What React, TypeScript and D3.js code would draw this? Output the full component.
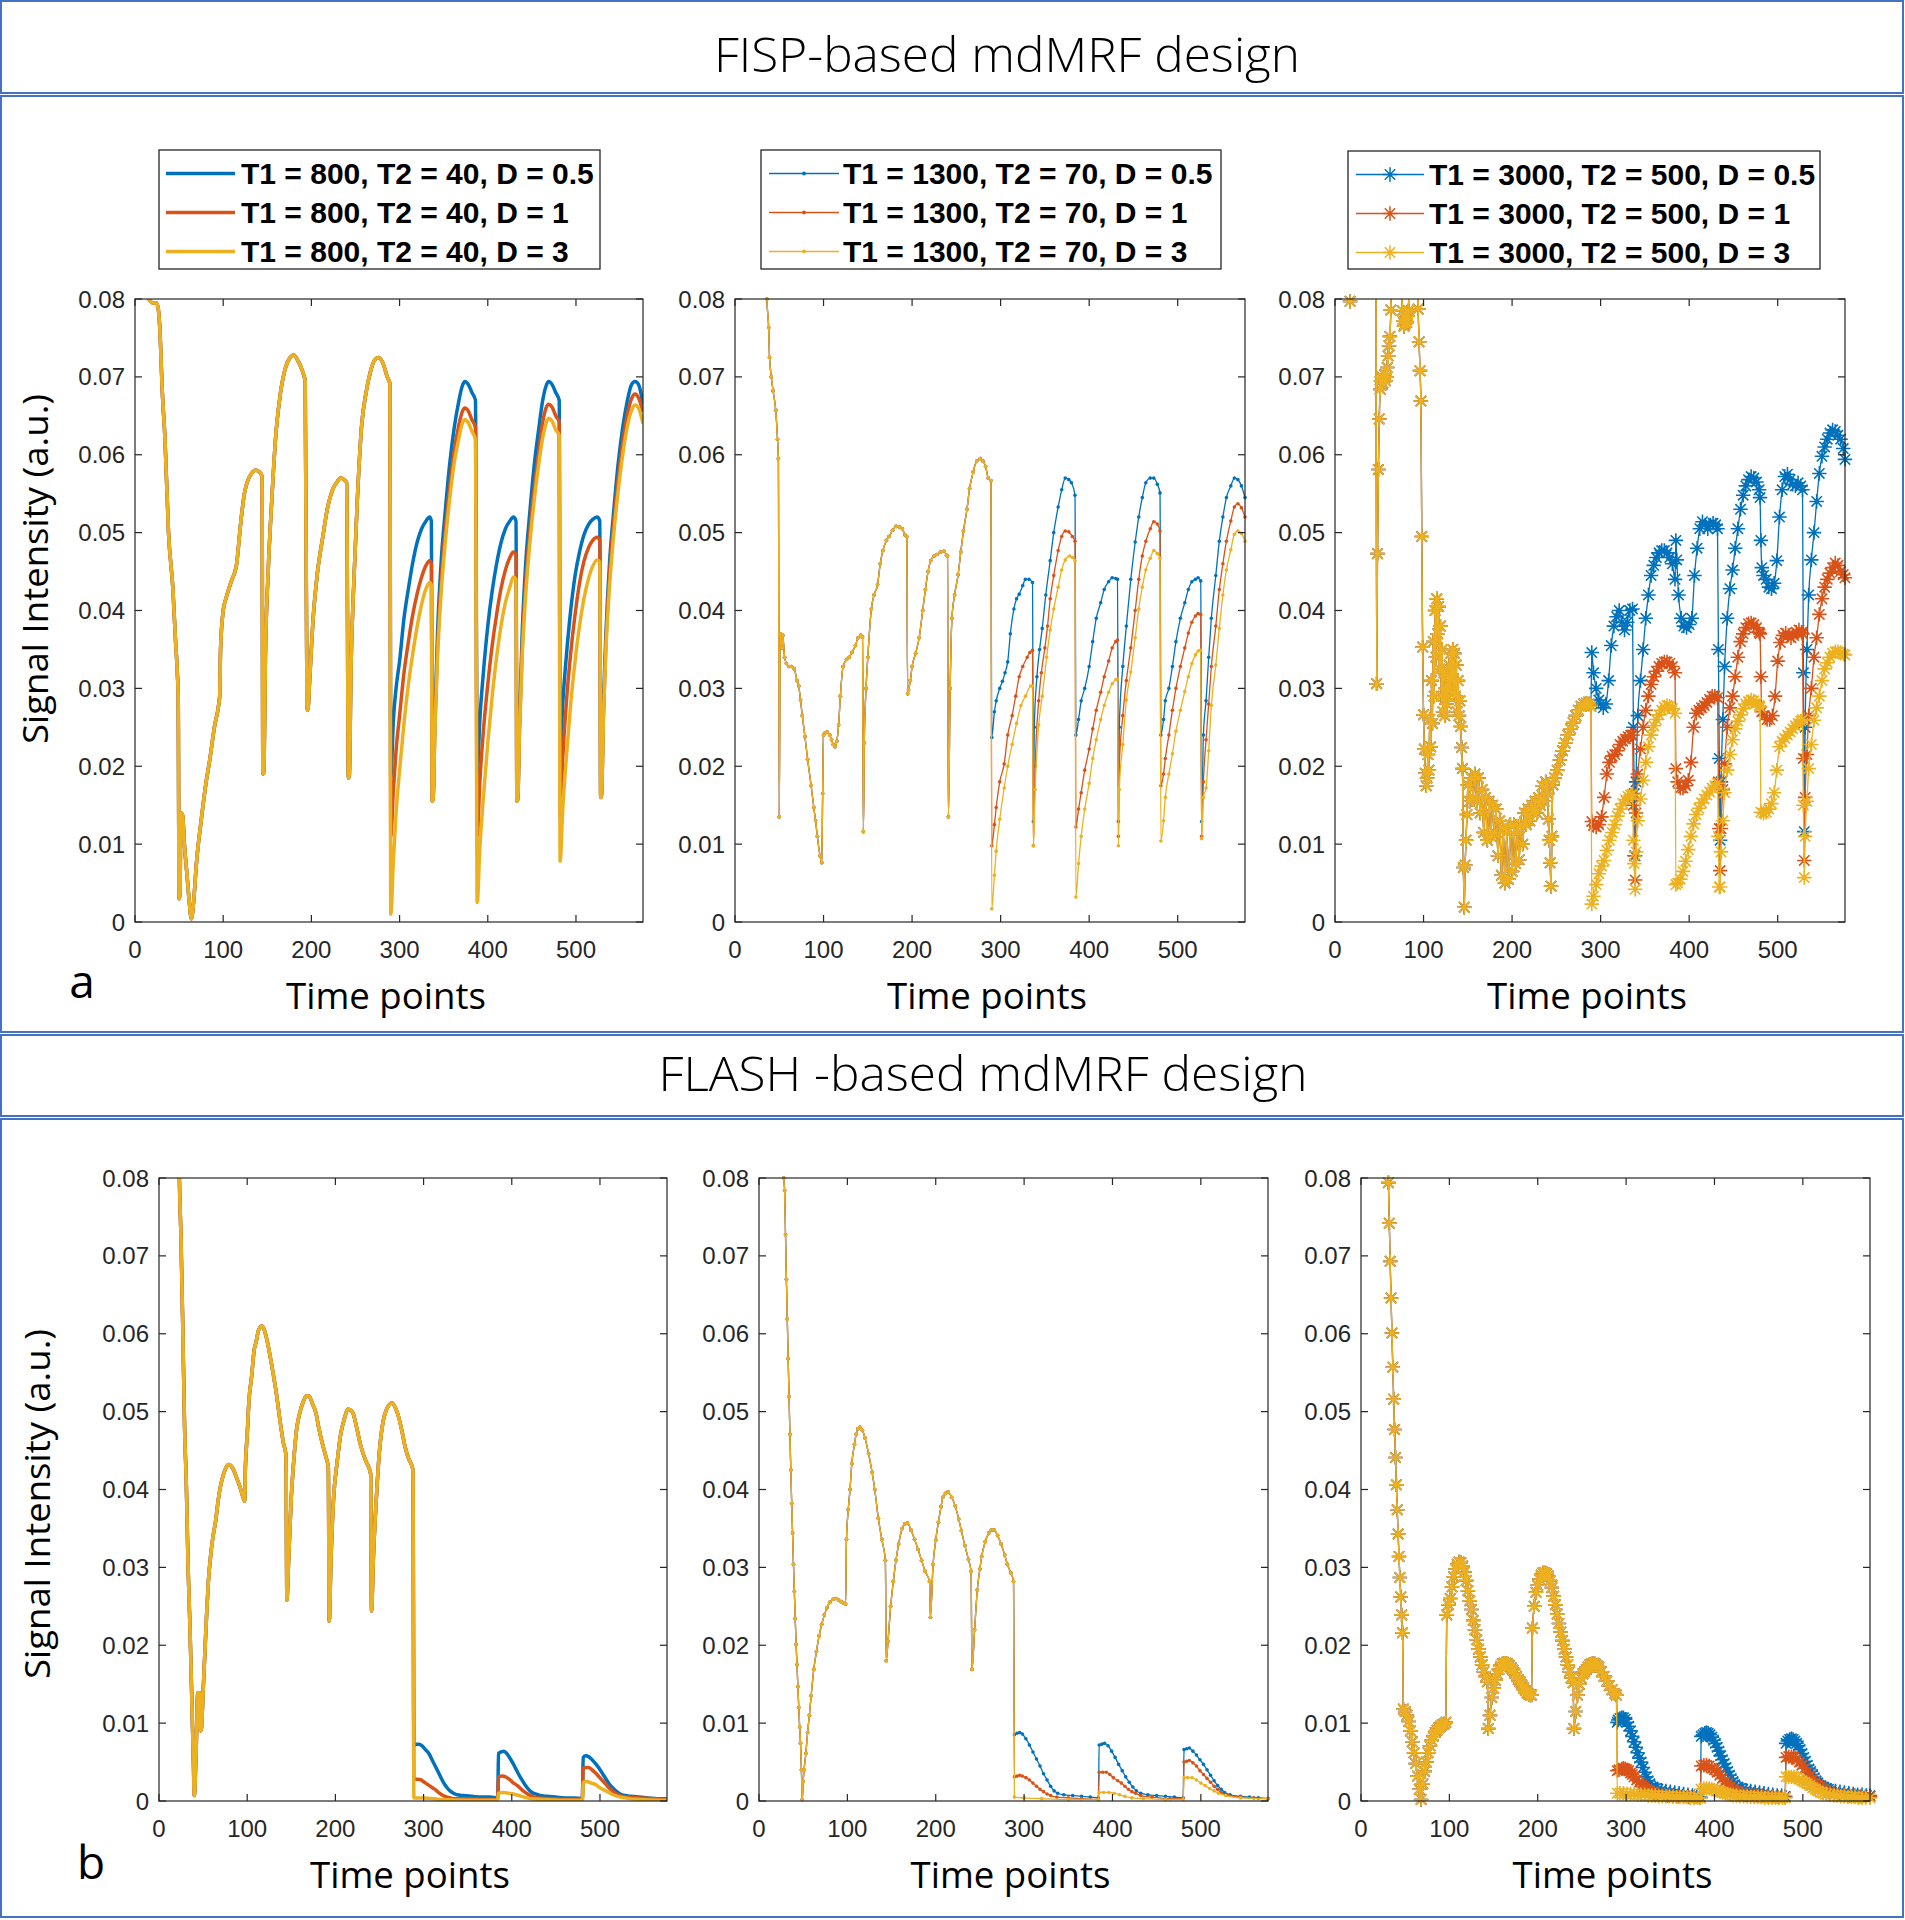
import React from 'react';
import * as d3 from 'd3';

type P = [number, number];

const X_MAX = 576;
const xTicks = [0, 100, 200, 300, 400, 500];
const yTicks = [0, 0.01, 0.02, 0.03, 0.04, 0.05, 0.06, 0.07, 0.08];
const yTickLabels = ['0', '0.01', '0.02', '0.03', '0.04', '0.05', '0.06', '0.07', '0.08'];
const seriesColors = ['#0072BD', '#D95319', '#EDB120'];

const titleTop = 'FISP-based mdMRF design';
const titleBottom = 'FLASH -based mdMRF design';
const yAxisLabel = 'Signal Intensity (a.u.)';
const xAxisLabel = 'Time points';

const legend800 = ['T1 = 800, T2 = 40, D = 0.5', 'T1 = 800, T2 = 40, D = 1', 'T1 = 800, T2 = 40, D = 3'];
const legend1300 = ['T1 = 1300, T2 = 70, D = 0.5', 'T1 = 1300, T2 = 70, D = 1', 'T1 = 1300, T2 = 70, D = 3'];
const legend3000 = ['T1 = 3000, T2 = 500, D = 0.5', 'T1 = 3000, T2 = 500, D = 1', 'T1 = 3000, T2 = 500, D = 3'];

// ---------------- FISP, T1=800 T2=40 ----------------
const fisp800Common: P[] = [[12,0.085],[14,0.0805],[17,0.0798],[20,0.0795],[24,0.0795],[26,0.079],[28,0.0765],[31,0.068],[34,0.062],[38,0.050],[43,0.0427],[46,0.036],[48,0.032],[49,0.0285],[50,0.003],[51,0.0035],[52,0.014],[54,0.0137],[56,0.010],[59,0.006],[62,0.002],[64,0.0004],[66,0.002],[70,0.008],[75,0.013],[80,0.0175],[85,0.021],[90,0.025],[95,0.028],[96,0.029],[97,0.035],[100,0.040],[103,0.0415],[107,0.043],[110,0.044],[115,0.0458],[120,0.0514],[124,0.055],[127,0.0564],[132,0.0576],[137,0.058],[141,0.0578],[144,0.0572],[145,0.019],[146,0.0192],[148,0.035],[151,0.045],[155,0.054],[160,0.063],[165,0.068],[171,0.0713],[176,0.0725],[180,0.0728],[185,0.072],[190,0.0707],[193,0.0694],[195,0.0275],[196,0.0272],[198,0.031],[202,0.039],[207,0.045],[213,0.0495],[218,0.053],[224,0.0555],[229,0.0565],[233,0.057],[237,0.0568],[240,0.0564],[242,0.0185],[243,0.0188],[245,0.033],[248,0.0433],[252,0.054],[257,0.0638],[262,0.068],[267,0.0707],[272,0.0722],[276,0.0725],[281,0.0718],[286,0.070],[289,0.0691]];
const fisp800Blue: P[] = [[290,0.0185],[293,0.026],[296,0.030],[300,0.0335],[305,0.039],[310,0.0428],[315,0.0462],[320,0.0488],[325,0.0505],[330,0.0515],[334,0.052],[336,0.0515],[337,0.0155],[338,0.0158],[340,0.026],[343,0.037],[347,0.046],[352,0.053],[357,0.059],[362,0.0635],[367,0.0668],[371,0.0688],[374,0.0694],[378,0.069],[382,0.068],[386,0.067],[388,0.019],[391,0.026],[395,0.032],[400,0.038],[405,0.0425],[410,0.046],[415,0.0487],[420,0.0505],[425,0.0515],[429,0.052],[432,0.0515],[433,0.0155],[434,0.0158],[436,0.026],[439,0.037],[443,0.046],[448,0.053],[453,0.059],[458,0.0635],[462,0.0668],[466,0.0688],[469,0.0694],[473,0.069],[477,0.068],[481,0.067],[482,0.021],[485,0.028],[489,0.034],[494,0.040],[499,0.0445],[504,0.0475],[509,0.0497],[514,0.051],[519,0.0517],[524,0.052],[527,0.0515],[528,0.016],[529,0.0163],[531,0.027],[534,0.037],[538,0.046],[543,0.053],[548,0.059],[553,0.0635],[558,0.0668],[563,0.069],[567,0.0694],[571,0.069],[576,0.0665]];
const fisp800Red: P[] = [[290,0.011],[293,0.017],[296,0.022],[300,0.0265],[305,0.032],[310,0.036],[315,0.0395],[320,0.0422],[325,0.0443],[330,0.0458],[334,0.0464],[336,0.046],[337,0.0155],[338,0.0158],[340,0.025],[343,0.035],[347,0.0435],[352,0.0505],[357,0.056],[362,0.0605],[367,0.0637],[371,0.0655],[374,0.066],[378,0.0656],[382,0.0645],[386,0.0635],[388,0.011],[391,0.018],[395,0.0245],[400,0.0305],[405,0.0355],[410,0.0395],[415,0.0428],[420,0.0452],[425,0.0468],[429,0.0475],[432,0.0472],[433,0.0155],[434,0.0158],[436,0.025],[439,0.035],[443,0.0435],[448,0.0505],[453,0.056],[458,0.0605],[462,0.064],[466,0.066],[469,0.0665],[473,0.0661],[477,0.065],[481,0.0642],[482,0.0135],[485,0.021],[489,0.028],[494,0.0345],[499,0.0395],[504,0.0435],[509,0.0463],[514,0.048],[519,0.049],[524,0.0494],[527,0.049],[528,0.016],[529,0.0163],[531,0.026],[534,0.036],[538,0.0445],[543,0.0515],[548,0.057],[553,0.0615],[558,0.065],[563,0.0672],[567,0.0678],[571,0.0673],[576,0.0655]];
const fisp800Yellow: P[] = [[290,0.001],[293,0.008],[296,0.014],[300,0.0195],[305,0.0255],[310,0.0305],[315,0.0345],[320,0.038],[325,0.0408],[330,0.0428],[334,0.0436],[336,0.0433],[337,0.0155],[338,0.0158],[340,0.0245],[343,0.034],[347,0.042],[352,0.049],[357,0.0545],[362,0.059],[367,0.062],[371,0.064],[374,0.0645],[378,0.0641],[382,0.063],[386,0.062],[388,0.0025],[391,0.0095],[395,0.016],[400,0.023],[405,0.029],[410,0.034],[415,0.038],[420,0.041],[425,0.043],[429,0.0443],[432,0.044],[433,0.0155],[434,0.0158],[436,0.0245],[439,0.034],[443,0.042],[448,0.049],[453,0.0545],[458,0.059],[462,0.062],[466,0.064],[469,0.0647],[473,0.0643],[477,0.0632],[481,0.0625],[482,0.0078],[485,0.0145],[489,0.021],[494,0.028],[499,0.0335],[504,0.038],[509,0.0415],[514,0.044],[519,0.0457],[524,0.0465],[527,0.0462],[528,0.016],[529,0.0163],[531,0.0255],[534,0.035],[538,0.043],[543,0.050],[548,0.0555],[553,0.060],[558,0.0635],[563,0.0657],[567,0.0664],[571,0.066],[576,0.064]];

// ---------------- FISP, T1=1300 T2=70 ----------------
const fisp1300Common: P[] = [[34,0.09],[36,0.0800],[38,0.0763],[39,0.0725],[41,0.070],[43,0.0682],[46,0.0657],[48,0.062],[49,0.0595],[50,0.0135],[51,0.037],[53,0.0352],[54,0.0368],[56,0.034],[58,0.0332],[61,0.0328],[64,0.0328],[67,0.0325],[70,0.031],[72,0.0303],[74,0.0285],[76,0.0265],[79,0.0238],[82,0.0209],[86,0.0175],[89,0.0147],[91,0.013],[93,0.011],[96,0.0085],[98,0.0076],[99,0.0165],[100,0.024],[102,0.0243],[104,0.0244],[107,0.024],[109,0.0234],[111,0.0228],[113,0.0225],[115,0.0232],[117,0.0253],[119,0.029],[122,0.0328],[126,0.0337],[129,0.034],[132,0.0346],[136,0.0355],[139,0.0365],[142,0.0368],[144,0.0366],[145,0.0116],[146,0.023],[148,0.030],[150,0.034],[154,0.0402],[157,0.042],[161,0.0433],[164,0.046],[167,0.0477],[171,0.049],[174,0.0495],[178,0.0503],[182,0.0508],[186,0.0507],[189,0.0505],[192,0.0497],[194,0.0495],[195,0.0293],[196,0.0298],[198,0.031],[200,0.0328],[204,0.0345],[208,0.0365],[212,0.040],[215,0.0427],[218,0.045],[221,0.0464],[225,0.047],[228,0.0472],[232,0.0475],[236,0.0476],[239,0.0471],[240,0.047],[241,0.0135],[243,0.030],[245,0.039],[248,0.042],[252,0.0446],[255,0.0475],[258,0.0502],[262,0.053],[265,0.0557],[269,0.0578],[273,0.0592],[277,0.0595],[280,0.0592],[283,0.0585],[286,0.057],[289,0.0567]];
const fisp1300Blue: P[] = [[290,0.0237],[293,0.027],[295,0.0284],[299,0.030],[302,0.0309],[305,0.032],[308,0.0334],[311,0.037],[315,0.0402],[318,0.0415],[321,0.0421],[325,0.0432],[328,0.044],[332,0.044],[336,0.0436],[337,0.0129],[338,0.025],[341,0.0315],[344,0.035],[347,0.0377],[351,0.042],[356,0.0464],[360,0.050],[365,0.0533],[369,0.0555],[373,0.057],[377,0.0568],[380,0.0564],[384,0.0548],[385,0.024],[388,0.026],[391,0.0284],[395,0.030],[400,0.0328],[404,0.036],[408,0.039],[413,0.041],[417,0.0427],[422,0.0437],[426,0.0442],[430,0.0441],[432,0.044],[433,0.0129],[434,0.025],[438,0.0328],[442,0.038],[447,0.044],[452,0.0488],[456,0.052],[460,0.0545],[464,0.0564],[469,0.057],[473,0.057],[477,0.0562],[480,0.0551],[481,0.024],[484,0.026],[486,0.0284],[490,0.030],[494,0.0328],[498,0.036],[503,0.039],[508,0.041],[512,0.0427],[516,0.0437],[520,0.044],[523,0.0442],[526,0.0438],[527,0.0129],[529,0.024],[532,0.0284],[535,0.034],[538,0.039],[543,0.0445],[547,0.0489],[551,0.052],[555,0.0545],[560,0.056],[564,0.057],[568,0.0568],[572,0.056],[576,0.0545]];
const fisp1300Red: P[] = [[290,0.0098],[293,0.0125],[295,0.0147],[299,0.018],[304,0.0203],[308,0.024],[313,0.0265],[317,0.029],[321,0.0315],[325,0.0328],[330,0.034],[333,0.0346],[336,0.0349],[337,0.0098],[339,0.020],[343,0.0284],[346,0.032],[350,0.0352],[353,0.038],[356,0.0415],[360,0.0445],[365,0.0477],[369,0.0495],[373,0.0502],[377,0.0501],[381,0.0495],[384,0.0489],[385,0.0122],[388,0.0145],[391,0.0166],[395,0.0195],[400,0.0222],[404,0.0248],[408,0.0272],[413,0.0295],[417,0.0315],[422,0.0335],[426,0.0352],[430,0.036],[432,0.0362],[433,0.011],[434,0.020],[438,0.0265],[442,0.031],[447,0.0352],[452,0.040],[456,0.044],[460,0.047],[464,0.0489],[469,0.0505],[473,0.0514],[477,0.0511],[480,0.0502],[481,0.0175],[484,0.019],[486,0.021],[490,0.024],[494,0.0272],[498,0.030],[503,0.0328],[508,0.0352],[512,0.0371],[516,0.0385],[520,0.0393],[523,0.0396],[526,0.0395],[527,0.011],[529,0.018],[532,0.0234],[535,0.028],[538,0.0328],[543,0.038],[547,0.0427],[551,0.046],[555,0.0489],[560,0.0515],[564,0.0533],[568,0.0537],[572,0.0532],[576,0.052]];
const fisp1300Yellow: P[] = [[290,0.0017],[293,0.006],[295,0.0091],[299,0.0132],[304,0.0172],[308,0.020],[313,0.0228],[318,0.0255],[323,0.0278],[328,0.029],[334,0.0303],[336,0.0303],[337,0.0098],[339,0.017],[343,0.0253],[347,0.029],[352,0.034],[356,0.0375],[360,0.0402],[365,0.043],[369,0.0452],[373,0.0465],[378,0.047],[381,0.0468],[384,0.0464],[385,0.0032],[388,0.0075],[391,0.011],[395,0.0145],[400,0.0178],[404,0.021],[408,0.0234],[413,0.026],[417,0.0278],[422,0.0295],[426,0.0306],[430,0.0311],[432,0.0312],[433,0.0098],[434,0.017],[438,0.0228],[442,0.0285],[447,0.0321],[452,0.0365],[456,0.0402],[460,0.043],[464,0.0452],[469,0.0467],[473,0.0477],[477,0.0473],[480,0.0467],[481,0.0104],[484,0.013],[486,0.016],[490,0.019],[494,0.0216],[498,0.0245],[503,0.0272],[508,0.0296],[512,0.0315],[516,0.0332],[520,0.0343],[523,0.0348],[526,0.0349],[527,0.0107],[529,0.016],[532,0.0172],[535,0.022],[538,0.0278],[543,0.033],[547,0.0377],[551,0.042],[555,0.0452],[560,0.0478],[564,0.0498],[568,0.0502],[572,0.0499],[576,0.0489]];

// ---------------- FISP, T1=3000 T2=500 ----------------
const fisp3000Common: P[] = [[16,0.085],[17,0.0797],[18,0.085],[46,0.11],[47,0.0306],[48,0.0473],[49,0.0581],[50,0.0646],[51,0.0684],[52,0.0695],[53,0.070],[54,0.0692],[55,0.0698],[56,0.0703],[57,0.0695],[58,0.070],[59,0.0712],[60,0.0727],[61,0.074],[62,0.0752],[63,0.0786],[64,0.09],[75,0.09],[76,0.0785],[77,0.0772],[78,0.0765],[79,0.0768],[80,0.0775],[81,0.077],[82,0.0778],[83,0.0785],[84,0.09],[93,0.09],[94,0.0787],[95,0.0745],[96,0.0708],[97,0.0669],[98,0.0495],[99,0.0353],[100,0.0266],[101,0.0222],[102,0.0191],[103,0.0175],[104,0.0185],[105,0.0215],[106,0.0195],[107,0.026],[108,0.0225],[109,0.031],[110,0.0255],[111,0.036],[112,0.029],[113,0.040],[114,0.034],[115,0.0415],[116,0.037],[117,0.0405],[118,0.0325],[119,0.038],[120,0.029],[121,0.035],[122,0.027],[123,0.032],[124,0.0265],[125,0.030],[126,0.028],[127,0.0315],[128,0.029],[129,0.033],[130,0.030],[131,0.0345],[132,0.031],[133,0.035],[134,0.0295],[135,0.0345],[136,0.029],[137,0.033],[138,0.027],[139,0.031],[140,0.0265],[141,0.0284],[142,0.0251],[143,0.0224],[144,0.0197],[145,0.007],[146,0.0019],[147,0.0073],[148,0.0105],[149,0.0138],[150,0.0176],[152,0.0155],[154,0.0185],[156,0.016],[158,0.019],[160,0.0155],[162,0.0185],[164,0.014],[166,0.017],[168,0.0115],[170,0.016],[172,0.0105],[174,0.0155],[176,0.011],[178,0.015],[180,0.0115],[182,0.0145],[184,0.0085],[186,0.013],[188,0.006],[190,0.012],[192,0.005],[194,0.0115],[196,0.0055],[198,0.0125],[200,0.0065],[202,0.0125],[204,0.0075],[206,0.0115],[208,0.008],[210,0.0125],[212,0.010],[214,0.014],[216,0.0125],[218,0.0145],[220,0.013],[222,0.015],[224,0.014],[226,0.0155],[228,0.014],[230,0.016],[232,0.015],[234,0.0175],[236,0.0155],[238,0.018],[240,0.0165],[241,0.0132],[242,0.0105],[243,0.0076],[244,0.0046],[245,0.011],[246,0.0176],[248,0.0185],[251,0.0195],[254,0.0208],[257,0.022],[260,0.023],[263,0.024],[266,0.0248],[269,0.0256],[272,0.0265],[275,0.0272],[278,0.0277],[281,0.028],[284,0.0281],[287,0.028],[289,0.0277]];
const fisp3000Blue: P[] = [[290,0.0346],[292,0.032],[295,0.030],[298,0.0285],[300,0.028],[303,0.0275],[306,0.028],[309,0.031],[312,0.0355],[315,0.038],[318,0.0392],[321,0.040],[324,0.0385],[327,0.0375],[330,0.0385],[333,0.040],[336,0.0402],[337,0.025],[338,0.0165],[339,0.0085],[340,0.018],[342,0.0265],[345,0.031],[348,0.035],[351,0.039],[354,0.042],[357,0.0445],[360,0.0458],[363,0.0468],[366,0.0474],[369,0.0477],[372,0.0477],[375,0.0474],[378,0.0468],[381,0.046],[384,0.044],[385,0.049],[386,0.0465],[388,0.042],[391,0.039],[394,0.038],[397,0.0378],[400,0.0382],[403,0.039],[406,0.0445],[409,0.048],[412,0.0505],[415,0.0514],[418,0.051],[421,0.0505],[424,0.051],[427,0.0512],[430,0.051],[432,0.0505],[433,0.035],[434,0.021],[435,0.0105],[436,0.018],[438,0.026],[440,0.0328],[443,0.039],[446,0.0428],[449,0.0452],[452,0.048],[455,0.0505],[458,0.053],[461,0.0548],[464,0.056],[467,0.0568],[470,0.0572],[473,0.057],[476,0.0565],[479,0.0555],[480,0.0545],[481,0.049],[482,0.0455],[484,0.0445],[487,0.044],[490,0.043],[493,0.0428],[496,0.0435],[499,0.0464],[502,0.052],[505,0.0555],[508,0.0572],[511,0.0575],[514,0.0568],[517,0.0562],[520,0.056],[523,0.0564],[526,0.056],[528,0.0555],[529,0.032],[530,0.0116],[531,0.025],[533,0.035],[535,0.042],[538,0.0465],[541,0.050],[544,0.054],[547,0.0576],[550,0.0598],[553,0.061],[556,0.062],[559,0.0628],[562,0.0632],[565,0.063],[568,0.0625],[571,0.062],[574,0.0608],[576,0.0594]];
const fisp3000Red: P[] = [[290,0.0129],[292,0.0124],[295,0.0122],[298,0.0125],[301,0.0135],[304,0.016],[307,0.019],[310,0.0205],[313,0.0213],[316,0.0215],[319,0.022],[322,0.0228],[325,0.0232],[328,0.0235],[331,0.0238],[334,0.024],[336,0.024],[337,0.015],[338,0.0085],[339,0.0054],[340,0.014],[342,0.019],[345,0.0222],[348,0.025],[351,0.0272],[354,0.029],[357,0.0305],[360,0.0315],[363,0.0322],[366,0.0328],[369,0.0332],[372,0.0334],[375,0.0334],[378,0.0332],[381,0.0328],[384,0.032],[385,0.0197],[387,0.018],[390,0.0172],[393,0.0172],[396,0.0175],[399,0.0182],[402,0.0205],[405,0.025],[408,0.0268],[411,0.0272],[414,0.0275],[417,0.0278],[420,0.0282],[423,0.0286],[426,0.029],[429,0.029],[432,0.0288],[433,0.018],[434,0.012],[435,0.0066],[436,0.012],[438,0.017],[440,0.0203],[443,0.025],[446,0.0275],[449,0.029],[452,0.0315],[455,0.034],[458,0.036],[461,0.037],[464,0.0378],[467,0.0383],[470,0.0384],[473,0.0382],[476,0.0378],[479,0.0372],[480,0.037],[481,0.0315],[482,0.027],[485,0.0265],[488,0.026],[491,0.026],[494,0.0265],[497,0.029],[500,0.0335],[503,0.0359],[506,0.0368],[509,0.0371],[512,0.0368],[515,0.0365],[518,0.0368],[521,0.0372],[524,0.0375],[527,0.0372],[528,0.037],[529,0.021],[530,0.0079],[531,0.016],[533,0.0215],[535,0.0265],[538,0.030],[541,0.034],[544,0.0365],[547,0.0395],[550,0.0415],[553,0.043],[556,0.044],[559,0.0448],[562,0.0455],[565,0.0461],[568,0.0458],[571,0.045],[574,0.0446],[576,0.0442]];
const fisp3000Yellow: P[] = [[290,0.0023],[292,0.0033],[295,0.0048],[298,0.0062],[301,0.0072],[304,0.0079],[307,0.0092],[310,0.0105],[313,0.0115],[316,0.0125],[319,0.0136],[322,0.0145],[325,0.0152],[328,0.0157],[331,0.0161],[334,0.0163],[336,0.0164],[337,0.0105],[338,0.0075],[339,0.0042],[340,0.009],[342,0.013],[345,0.0158],[348,0.0182],[351,0.0205],[354,0.0225],[357,0.024],[360,0.0252],[363,0.026],[366,0.0266],[369,0.0272],[372,0.0276],[375,0.0278],[378,0.0277],[381,0.0274],[384,0.0268],[385,0.0048],[387,0.005],[390,0.0055],[393,0.0065],[396,0.0078],[399,0.0093],[402,0.011],[405,0.0126],[408,0.0138],[411,0.0146],[414,0.0153],[417,0.0158],[420,0.0163],[423,0.0167],[426,0.0172],[429,0.0175],[432,0.0178],[433,0.011],[434,0.0045],[435,0.0045],[436,0.009],[438,0.013],[440,0.0166],[443,0.0195],[446,0.0215],[449,0.0234],[452,0.0248],[455,0.0258],[458,0.0266],[461,0.0274],[464,0.028],[467,0.0283],[470,0.0285],[473,0.0284],[476,0.0281],[479,0.0278],[480,0.0276],[481,0.0141],[484,0.014],[487,0.0141],[490,0.0145],[493,0.0152],[496,0.0166],[499,0.0195],[502,0.0225],[505,0.0232],[508,0.0236],[511,0.024],[514,0.0244],[517,0.0248],[520,0.0252],[523,0.0255],[526,0.0258],[528,0.026],[529,0.015],[530,0.0057],[531,0.011],[533,0.0155],[535,0.0197],[538,0.0228],[541,0.0259],[544,0.0275],[547,0.029],[550,0.031],[553,0.0325],[556,0.0333],[559,0.034],[562,0.0345],[565,0.0347],[568,0.0347],[571,0.0346],[574,0.0344],[576,0.0343]];

// ---------------- FLASH, T1=800 T2=40 ----------------
const flash800Common: P[] = [[20,0.11],[23,0.0805],[25,0.072],[27,0.0606],[29,0.048],[31,0.0406],[33,0.030],[35,0.0228],[37,0.014],[39,0.005],[40,0.0007],[42,0.006],[44,0.0139],[46,0.0139],[47,0.009],[48,0.0092],[50,0.014],[52,0.019],[54,0.024],[56,0.0282],[59,0.032],[62,0.0345],[64,0.0358],[67,0.0385],[69,0.040],[72,0.0415],[76,0.0428],[79,0.0432],[82,0.043],[85,0.0424],[88,0.0415],[91,0.0406],[94,0.0395],[97,0.0385],[98,0.043],[100,0.047],[102,0.0514],[105,0.0545],[108,0.058],[110,0.0589],[113,0.0605],[117,0.061],[120,0.0603],[123,0.0589],[127,0.0565],[130,0.0545],[133,0.0524],[137,0.049],[141,0.046],[144,0.0444],[145,0.0258],[147,0.031],[150,0.039],[153,0.044],[156,0.0477],[160,0.050],[164,0.0514],[167,0.052],[170,0.052],[174,0.051],[178,0.0498],[181,0.048],[185,0.046],[189,0.0443],[192,0.0428],[193,0.0231],[195,0.031],[198,0.039],[202,0.0435],[206,0.0471],[210,0.049],[214,0.0503],[217,0.0502],[220,0.0498],[224,0.048],[229,0.0455],[234,0.0438],[240,0.042],[241,0.0244],[243,0.031],[247,0.040],[250,0.045],[254,0.0487],[258,0.0503],[262,0.051],[264,0.0511],[268,0.0505],[272,0.0492],[276,0.0472],[279,0.0455],[283,0.044],[288,0.0425]];
const flash800Blue: P[] = [[289,0.0072],[292,0.0073],[295,0.0073],[298,0.0071],[302,0.0066],[306,0.0061],[310,0.0052],[314,0.0043],[318,0.0034],[322,0.0025],[326,0.0018],[330,0.0013],[334,0.001],[338,0.0008],[345,0.0007],[355,0.0006],[365,0.0005],[375,0.0005],[384,0.0004],[385,0.0061],[388,0.0063],[391,0.0064],[395,0.006],[399,0.0053],[403,0.0045],[407,0.0036],[411,0.0028],[415,0.0021],[419,0.0015],[423,0.0011],[427,0.0009],[432,0.0007],[440,0.0006],[450,0.0005],[460,0.0004],[470,0.0004],[480,0.0003],[481,0.0056],[484,0.0058],[487,0.0057],[491,0.0053],[495,0.0048],[499,0.0042],[503,0.0035],[507,0.0028],[511,0.0021],[515,0.0016],[519,0.0012],[523,0.0009],[528,0.0007],[535,0.0006],[545,0.0005],[555,0.0004],[565,0.0003],[576,0.0003]];
const flash800Red: P[] = [[289,0.0028],[293,0.0028],[297,0.0027],[301,0.0024],[305,0.0021],[310,0.0017],[314,0.0014],[318,0.001],[322,0.0007],[327,0.0005],[335,0.0003],[350,0.0003],[365,0.0002],[384,0.0002],[385,0.0031],[389,0.0032],[393,0.0031],[397,0.0028],[401,0.0024],[406,0.002],[410,0.0016],[414,0.0012],[418,0.0009],[423,0.0006],[430,0.0004],[445,0.0003],[465,0.0002],[480,0.0002],[481,0.0042],[484,0.0043],[487,0.0043],[491,0.004],[495,0.0036],[499,0.0031],[503,0.0026],[507,0.0021],[511,0.0016],[515,0.0012],[519,0.0009],[523,0.0007],[530,0.0005],[545,0.0004],[560,0.0003],[576,0.0002]];
const flash800Yellow: P[] = [[289,0.0004],[300,0.0004],[320,0.0002],[350,0.0001],[384,0.0001],[385,0.001],[390,0.0011],[396,0.001],[402,0.0009],[408,0.0007],[414,0.0005],[422,0.0003],[435,0.0002],[460,0.0001],[480,0.0001],[481,0.0024],[485,0.0025],[490,0.0023],[495,0.0021],[500,0.0017],[505,0.0014],[510,0.0011],[515,0.0008],[520,0.0006],[528,0.0004],[545,0.0002],[576,0.0001]];

// ---------------- FLASH, T1=1300 T2=70 ----------------
const flash1300Common: P[] = [[27,0.085],[28,0.080],[29,0.0784],[30,0.0727],[31,0.067],[32,0.0619],[33,0.0568],[34,0.0519],[35,0.0471],[36,0.0425],[37,0.0382],[38,0.0344],[39,0.0304],[40,0.0269],[41,0.0234],[42,0.0201],[43,0.0175],[44,0.0147],[45,0.012],[46,0.0095],[47,0.0074],[48,0.004],[49,0.0002],[50,0.0025],[51,0.004],[53,0.0061],[55,0.0088],[57,0.011],[59,0.0135],[62,0.0169],[65,0.0192],[68,0.0212],[71,0.0227],[74,0.0239],[77,0.0248],[80,0.0255],[84,0.0259],[87,0.026],[90,0.0258],[93,0.0256],[96,0.0254],[98,0.0253],[99,0.0336],[101,0.0374],[103,0.040],[105,0.0433],[108,0.0458],[110,0.0471],[112,0.0478],[114,0.048],[117,0.0476],[120,0.0466],[124,0.0446],[128,0.0422],[131,0.040],[135,0.0363],[139,0.0336],[143,0.0309],[144,0.018],[146,0.0205],[149,0.025],[152,0.0282],[155,0.0309],[158,0.033],[162,0.035],[165,0.0356],[168,0.0357],[172,0.0348],[176,0.0336],[180,0.0323],[184,0.0309],[188,0.0295],[193,0.0282],[194,0.0236],[197,0.0304],[200,0.0335],[203,0.0358],[206,0.0378],[208,0.039],[211,0.0395],[214,0.0397],[218,0.039],[222,0.0379],[226,0.0362],[229,0.0347],[233,0.0328],[237,0.031],[240,0.0295],[241,0.0169],[244,0.022],[247,0.0271],[250,0.0298],[252,0.0314],[256,0.0333],[260,0.0344],[263,0.0348],[266,0.0348],[270,0.0341],[274,0.033],[278,0.0316],[281,0.0304],[285,0.0293],[288,0.0282]];
const flash1300Blue: P[] = [[289,0.0085],[292,0.0087],[295,0.0088],[298,0.0086],[302,0.008],[306,0.0072],[310,0.0063],[314,0.0054],[318,0.0045],[322,0.0035],[326,0.0027],[330,0.0019],[334,0.0013],[338,0.001],[345,0.0008],[355,0.0007],[365,0.0006],[375,0.0005],[384,0.0004],[385,0.0072],[388,0.0073],[391,0.0074],[395,0.0071],[399,0.0064],[403,0.0056],[407,0.0047],[411,0.0039],[415,0.0031],[419,0.0024],[423,0.0018],[427,0.0013],[432,0.001],[440,0.0008],[450,0.0007],[460,0.0006],[470,0.0005],[480,0.0004],[481,0.0066],[484,0.0067],[487,0.0068],[491,0.0064],[495,0.0059],[499,0.0053],[503,0.0047],[507,0.004],[511,0.0033],[515,0.0026],[519,0.002],[523,0.0015],[527,0.0011],[533,0.0008],[545,0.0006],[555,0.0005],[565,0.0004],[576,0.0003]];
const flash1300Red: P[] = [[289,0.0031],[292,0.0032],[295,0.0033],[298,0.0032],[302,0.003],[306,0.0027],[310,0.0023],[314,0.0019],[318,0.0015],[322,0.0012],[326,0.0009],[330,0.0007],[337,0.0005],[350,0.0004],[365,0.0003],[384,0.0002],[385,0.0037],[389,0.0037],[393,0.0037],[397,0.0034],[401,0.003],[406,0.0026],[410,0.0023],[414,0.0019],[418,0.0015],[422,0.0012],[426,0.001],[432,0.0007],[445,0.0005],[465,0.0003],[480,0.0003],[481,0.005],[484,0.0051],[487,0.0052],[491,0.0049],[495,0.0045],[499,0.0039],[503,0.0034],[507,0.0029],[511,0.0024],[515,0.0019],[519,0.0015],[523,0.0011],[530,0.0008],[545,0.0005],[560,0.0004],[576,0.0003]];
const flash1300Yellow: P[] = [[289,0.0005],[300,0.0004],[320,0.0003],[350,0.0002],[384,0.0002],[385,0.0011],[390,0.0011],[396,0.0011],[402,0.001],[408,0.0008],[414,0.0006],[422,0.0004],[435,0.0003],[460,0.0002],[480,0.0002],[481,0.003],[485,0.003],[490,0.003],[495,0.0027],[500,0.0023],[505,0.002],[510,0.0016],[515,0.0013],[520,0.001],[528,0.0007],[545,0.0004],[576,0.0003]];

// ---------------- FLASH, T1=3000 T2=500 ----------------
const flash3000Common: P[] = [[30,0.085],[31,0.0794],[32,0.0742],[33,0.0693],[34,0.0646],[35,0.0601],[36,0.0557],[37,0.0516],[38,0.0477],[39,0.0441],[40,0.0406],[41,0.0374],[42,0.0343],[43,0.0314],[44,0.0287],[45,0.0262],[46,0.0239],[47,0.0216],[48,0.0118],[50,0.0115],[52,0.011],[54,0.0102],[56,0.009],[58,0.0076],[60,0.0062],[62,0.0048],[64,0.0032],[66,0.0015],[68,0.0002],[70,0.0022],[72,0.0038],[74,0.005],[76,0.0062],[78,0.0071],[80,0.0078],[82,0.0083],[84,0.0088],[86,0.0091],[88,0.0094],[90,0.0096],[92,0.0098],[94,0.0099],[96,0.0101],[97,0.0239],[99,0.0252],[101,0.026],[103,0.0275],[105,0.0288],[107,0.0298],[109,0.0304],[111,0.0307],[113,0.0306],[115,0.0302],[117,0.0294],[119,0.0283],[121,0.027],[123,0.0257],[125,0.0246],[127,0.0232],[129,0.022],[131,0.0207],[133,0.0195],[135,0.0185],[137,0.0175],[139,0.0166],[141,0.016],[143,0.0153],[144,0.0093],[146,0.011],[148,0.0133],[150,0.0145],[152,0.0155],[154,0.0163],[156,0.0169],[158,0.0173],[160,0.0176],[162,0.0177],[164,0.0177],[166,0.0176],[168,0.0174],[170,0.0171],[172,0.0168],[174,0.0164],[176,0.016],[178,0.0156],[180,0.0153],[182,0.0149],[184,0.0145],[186,0.0142],[188,0.0139],[190,0.0137],[192,0.0136],[193,0.0136],[194,0.0222],[196,0.025],[198,0.0268],[200,0.0277],[202,0.0285],[204,0.029],[206,0.0293],[208,0.0293],[210,0.0292],[212,0.0289],[214,0.0283],[216,0.0274],[218,0.0263],[220,0.0252],[222,0.024],[224,0.0228],[226,0.0217],[228,0.0206],[230,0.0195],[232,0.0185],[234,0.0175],[236,0.0166],[238,0.0158],[240,0.0152],[241,0.0093],[243,0.0115],[245,0.0136],[247,0.015],[249,0.0158],[251,0.0163],[253,0.0166],[255,0.0169],[257,0.0172],[259,0.0175],[261,0.0176],[263,0.0177],[265,0.0176],[267,0.0174],[269,0.0172],[272,0.0166],[275,0.016],[278,0.0154],[281,0.0148],[284,0.0143],[287,0.0138],[289,0.0136]];
const flash3000Blue: P[] = [[290,0.0101],[291,0.0104],[293,0.0106],[295,0.0107],[297,0.0107],[299,0.0105],[301,0.0101],[303,0.0096],[305,0.009],[307,0.0083],[309,0.0076],[311,0.0069],[313,0.0062],[315,0.0055],[317,0.005],[319,0.0043],[321,0.0037],[323,0.0031],[325,0.0026],[327,0.0022],[330,0.0018],[333,0.0016],[336,0.0015],[340,0.0014],[345,0.0013],[350,0.0012],[355,0.0011],[360,0.001],[365,0.0009],[370,0.0008],[375,0.0007],[380,0.0006],[384,0.0005],[385,0.0083],[387,0.0085],[389,0.0087],[391,0.0088],[393,0.0087],[395,0.0085],[397,0.0082],[399,0.0078],[401,0.0074],[403,0.0069],[405,0.0064],[407,0.0058],[409,0.0053],[411,0.0048],[413,0.0043],[415,0.0038],[417,0.0033],[419,0.0029],[421,0.0025],[423,0.0021],[426,0.0018],[429,0.0016],[432,0.0015],[436,0.0014],[441,0.0013],[446,0.0012],[451,0.0011],[456,0.001],[461,0.0009],[466,0.0008],[471,0.0007],[476,0.0007],[480,0.0006],[481,0.0074],[483,0.0077],[485,0.0079],[487,0.008],[489,0.0079],[491,0.0077],[493,0.0074],[495,0.0071],[497,0.0066],[499,0.0061],[501,0.0056],[503,0.0051],[505,0.0046],[507,0.0041],[509,0.0038],[511,0.0034],[513,0.003],[515,0.0026],[517,0.0023],[520,0.002],[523,0.0018],[526,0.0016],[529,0.0015],[532,0.0014],[537,0.0013],[542,0.0012],[547,0.0011],[552,0.001],[557,0.0009],[562,0.0008],[567,0.0008],[572,0.0007],[576,0.0007]];
const flash3000Red: P[] = [[290,0.0039],[292,0.004],[295,0.0041],[297,0.0042],[299,0.0041],[301,0.004],[303,0.0039],[305,0.0036],[307,0.0034],[309,0.0031],[312,0.0027],[315,0.0024],[318,0.0021],[320,0.0018],[323,0.0015],[326,0.0013],[329,0.0011],[332,0.001],[336,0.0009],[341,0.0008],[347,0.0007],[353,0.0007],[359,0.0006],[365,0.0006],[371,0.0005],[377,0.0005],[384,0.0004],[385,0.0045],[388,0.0046],[391,0.0046],[394,0.0045],[397,0.0042],[400,0.004],[403,0.0037],[406,0.0033],[409,0.0029],[412,0.0025],[415,0.0022],[418,0.0018],[421,0.0015],[424,0.0012],[427,0.0011],[431,0.001],[436,0.0009],[442,0.0008],[448,0.0007],[454,0.0007],[460,0.0006],[466,0.0006],[472,0.0005],[480,0.0005],[481,0.0056],[484,0.0057],[487,0.0057],[490,0.0056],[493,0.0053],[496,0.005],[499,0.0046],[502,0.0042],[505,0.0037],[508,0.0032],[511,0.0028],[514,0.0024],[517,0.002],[520,0.0018],[523,0.0015],[526,0.0013],[530,0.0011],[535,0.001],[541,0.0009],[547,0.0008],[553,0.0007],[559,0.0007],[565,0.0006],[571,0.0006],[576,0.0006]];
const flash3000Yellow: P[] = [[290,0.001],[293,0.001],[297,0.001],[301,0.0009],[305,0.0009],[309,0.0009],[313,0.0008],[317,0.0008],[321,0.0008],[325,0.0007],[329,0.0007],[333,0.0007],[337,0.0006],[341,0.0006],[345,0.0006],[349,0.0006],[353,0.0005],[357,0.0005],[361,0.0005],[365,0.0005],[369,0.0005],[373,0.0004],[377,0.0004],[381,0.0004],[384,0.0004],[385,0.0015],[388,0.0016],[391,0.0016],[394,0.0016],[397,0.0015],[400,0.0014],[403,0.0013],[406,0.0012],[409,0.0011],[412,0.001],[415,0.0009],[418,0.0008],[421,0.0007],[425,0.0007],[429,0.0006],[433,0.0006],[437,0.0006],[441,0.0005],[445,0.0005],[449,0.0005],[453,0.0005],[457,0.0004],[461,0.0004],[465,0.0004],[469,0.0004],[473,0.0004],[477,0.0004],[480,0.0004],[481,0.0031],[484,0.0031],[487,0.0031],[490,0.0031],[493,0.003],[496,0.0028],[499,0.0026],[502,0.0024],[505,0.0022],[508,0.002],[511,0.0017],[514,0.0015],[517,0.0013],[520,0.0011],[523,0.001],[527,0.0009],[531,0.0008],[535,0.0007],[539,0.0007],[543,0.0006],[547,0.0006],[551,0.0005],[555,0.0005],[559,0.0005],[563,0.0004],[567,0.0004],[571,0.0004],[576,0.0004]];

const AX = '#262626';
const BORDER = '#4472C4';
const TICK_FONT = "'Liberation Sans', Arial, Helvetica, sans-serif";
const LABEL_FONT = "'Open Sans', 'Noto Sans', sans-serif";

type Kind = 'line' | 'dot' | 'star';

function starPath(pts: P[], xs: any, ys: any, r: number) {
  let d = '';
  const k = r * 0.72;
  for (const [t, v] of pts) {
    if (v > 0.0802 || v < 0 || t > X_MAX) continue;
    const x = xs(t), y = ys(v);
    d += `M${x - r},${y}H${x + r}M${x},${y - r}V${y + r}M${x - k},${y - k}L${x + k},${y + k}M${x - k},${y + k}L${x + k},${y - k}`;
  }
  return d;
}

function Panel(props: { id: string; x0: number; y0: number; w: number; h: number; common: P[]; posts: P[][]; kind: Kind; lw: number }) {
  const { id, x0, y0, w, h, common, posts, kind, lw } = props;
  const xs = d3.scaleLinear().domain([0, X_MAX]).range([x0, x0 + w]);
  const ys = d3.scaleLinear().domain([0, 0.08]).range([y0 + h, y0]);
  const line = d3.line<P>().x((d) => xs(d[0])).y((d) => ys(d[1])).curve(d3.curveMonotoneX);
  const tickLen = 7;
  return (
    <g>
      <defs>
        <clipPath id={id}>
          <rect x={x0} y={y0} width={w} height={h} />
        </clipPath>
      </defs>
      {posts.map((post, i) => {
        const full = common.concat(post);
        const color = seriesColors[i];
        return (
          <g key={i}>
            <path d={line(full) || ''} fill="none" stroke={color} strokeWidth={lw} strokeLinejoin="round" clipPath={`url(#${id})`} />
            {kind === 'dot' &&
              full.filter((p) => p[1] <= 0.0802 && p[1] >= 0).map((p, j) => (
                <circle key={j} cx={xs(p[0])} cy={ys(p[1])} r={1.8} fill={color} />
              ))}
            {kind === 'star' && (
              <path d={starPath(full, xs, ys, 7.2)} fill="none" stroke={color} strokeWidth={1.6} />
            )}
          </g>
        );
      })}
      <rect x={x0} y={y0} width={w} height={h} fill="none" stroke={AX} strokeWidth={1.2} />
      {xTicks.map((t) => (
        <g key={'x' + t}>
          <line x1={xs(t)} x2={xs(t)} y1={y0 + h} y2={y0 + h - tickLen} stroke={AX} strokeWidth={1.2} />
          <line x1={xs(t)} x2={xs(t)} y1={y0} y2={y0 + tickLen} stroke={AX} strokeWidth={1.2} />
          <text x={xs(t)} y={y0 + h + 36} textAnchor="middle" fontFamily={TICK_FONT} fontSize={24} fill={AX}>{t}</text>
        </g>
      ))}
      {yTicks.map((v, i) => (
        <g key={'y' + i}>
          <line x1={x0} x2={x0 + tickLen} y1={ys(v)} y2={ys(v)} stroke={AX} strokeWidth={1.2} />
          <line x1={x0 + w} x2={x0 + w - tickLen} y1={ys(v)} y2={ys(v)} stroke={AX} strokeWidth={1.2} />
          <text x={x0 - 10} y={ys(v) + 8.5} textAnchor="end" fontFamily={TICK_FONT} fontSize={24} fill={AX}>{yTickLabels[i]}</text>
        </g>
      ))}
      <text x={x0 + w / 2 - 3} y={y0 + h + 87} textAnchor="middle" fontFamily={LABEL_FONT} fontSize={36} textLength={200} lengthAdjust="spacingAndGlyphs" fill="#000">{xAxisLabel}</text>
    </g>
  );
}

function Legend(props: { x: number; y: number; w: number; h: number; lineX1: number; lineX2: number; textX: number; labels: string[]; kind: Kind; lw: number }) {
  const { x, y, w, h, lineX1, lineX2, textX, labels, kind, lw } = props;
  const rows = [y + 23.5, y + 62.5, y + 101.5];
  return (
    <g>
      <rect x={x} y={y} width={w} height={h} fill="#fff" stroke={AX} strokeWidth={1.3} />
      {labels.map((lab, i) => {
        const cy = rows[i];
        const cx = (lineX1 + lineX2) / 2;
        const c = seriesColors[i];
        const r = 7.2, k = r * 0.72;
        return (
          <g key={i}>
            <line x1={lineX1} x2={lineX2} y1={cy} y2={cy} stroke={c} strokeWidth={lw} />
            {kind === 'dot' && <circle cx={cx} cy={cy} r={1.9} fill={c} />}
            {kind === 'star' && (
              <path d={`M${cx - r},${cy}H${cx + r}M${cx},${cy - r}V${cy + r}M${cx - k},${cy - k}L${cx + k},${cy + k}M${cx - k},${cy + k}L${cx + k},${cy - k}`} stroke={c} strokeWidth={1.5} fill="none" />
            )}
            <text x={textX} y={cy + 10.5} fontFamily={TICK_FONT} fontWeight="bold" fontSize={30} fill="#000">{lab}</text>
          </g>
        );
      })}
    </g>
  );
}

export default function App() {
  const topY = 299, botY = 1178, ph = 623;
  return (
    <div style={{ position: 'absolute', left: 0, top: 0 }}>
      <svg width={1905} height={1920} viewBox="0 0 1905 1920" style={{ display: 'block', background: '#fff' }}>
        <rect x={0} y={0} width={1905} height={1920} fill="#fff" />
        <rect x={1} y={1} width={1902} height={92} fill="none" stroke={BORDER} strokeWidth={2} />
        <rect x={1} y={96} width={1902} height={936} fill="none" stroke={BORDER} strokeWidth={2} />
        <rect x={1} y={1035} width={1902} height={81} fill="none" stroke={BORDER} strokeWidth={2} />
        <rect x={1} y={1119} width={1902} height={798} fill="none" stroke={BORDER} strokeWidth={2} />
        <text x={1007} y={72} textAnchor="middle" fontFamily={LABEL_FONT} fontWeight={300} fontSize={48} textLength={586} lengthAdjust="spacingAndGlyphs" fill="#000">{titleTop}</text>
        <text x={983} y={1091} textAnchor="middle" fontFamily={LABEL_FONT} fontWeight={300} fontSize={48} textLength={649} lengthAdjust="spacingAndGlyphs" fill="#000">{titleBottom}</text>

        <Panel id="c1" x0={135} y0={topY} w={508} h={ph} common={fisp800Common} posts={[fisp800Blue, fisp800Red, fisp800Yellow]} kind="line" lw={3.5} />
        <Panel id="c2" x0={735} y0={topY} w={510} h={ph} common={fisp1300Common} posts={[fisp1300Blue, fisp1300Red, fisp1300Yellow]} kind="dot" lw={1.3} />
        <Panel id="c3" x0={1335} y0={topY} w={510} h={ph} common={fisp3000Common} posts={[fisp3000Blue, fisp3000Red, fisp3000Yellow]} kind="star" lw={1.3} />
        <Panel id="c4" x0={159} y0={botY} w={508} h={ph} common={flash800Common} posts={[flash800Blue, flash800Red, flash800Yellow]} kind="line" lw={3.5} />
        <Panel id="c5" x0={759} y0={botY} w={509} h={ph} common={flash1300Common} posts={[flash1300Blue, flash1300Red, flash1300Yellow]} kind="dot" lw={1.3} />
        <Panel id="c6" x0={1361} y0={botY} w={509} h={ph} common={flash3000Common} posts={[flash3000Blue, flash3000Red, flash3000Yellow]} kind="star" lw={1.3} />

        <Legend x={159} y={150} w={441} h={119} lineX1={166} lineX2={235} textX={241} labels={legend800} kind="line" lw={3.5} />
        <Legend x={761} y={150} w={460} h={119} lineX1={769} lineX2={839} textX={843} labels={legend1300} kind="dot" lw={1.5} />
        <Legend x={1348} y={151} w={472} h={118} lineX1={1356} lineX2={1424} textX={1429} labels={legend3000} kind="star" lw={1.5} />

        <text transform="translate(48,569) rotate(-90)" textAnchor="middle" fontFamily={LABEL_FONT} fontSize={35} textLength={350} lengthAdjust="spacingAndGlyphs" fill="#000">{yAxisLabel}</text>
        <text transform="translate(50,1504) rotate(-90)" textAnchor="middle" fontFamily={LABEL_FONT} fontSize={35} textLength={350} lengthAdjust="spacingAndGlyphs" fill="#000">{yAxisLabel}</text>
        <text x={82} y={998} textAnchor="middle" fontFamily={LABEL_FONT} fontSize={46} fill="#000">a</text>
        <text x={91} y={1879} textAnchor="middle" fontFamily={LABEL_FONT} fontSize={46} fill="#000">b</text>
      </svg>
    </div>
  );
}
